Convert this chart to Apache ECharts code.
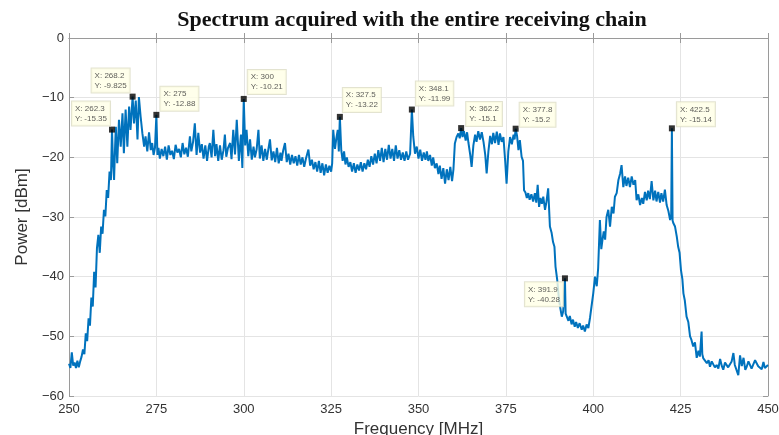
<!DOCTYPE html>
<html>
<head>
<meta charset="utf-8">
<script src="https://cdn.jsdelivr.net/npm/echarts@6/dist/echarts.min.js"></script>
<style>
html,body{margin:0;padding:0;background:#fff;}
#chart{width:779px;height:435px;}
</style>
</head>
<body>
<div id="chart"></div>
<script>
// ---- Data (frequency MHz, power dBm) ----
const riseBand = [[250,-54.6],[250.4,-55.3],[250.8,-52.7],[251.2,-54.9],[251.6,-54.4],[252,-55.3],[252.4,-54.1],[252.8,-55.2],[253.2,-54.2],[253.6,-53.4],[254,-52.2],[254.4,-53.0],[254.8,-49.5],[255.2,-50.8],[255.6,-47.0],[256,-48.2],[256.4,-43.5],[256.8,-45.0],[257.2,-39.2],[257.6,-41.8],[258,-35.2],[258.4,-33.0],[258.8,-36.0],[259.2,-31.6],[259.6,-32.8],[260,-28.8],[260.4,-29.9],[260.8,-25.5],[261.2,-26.8],[261.6,-22.4],[262,-23.8],[262.3,-15.35],[262.6,-21.0],[262.9,-23.8]];
const peakBand = [[263.2,-18.0],[263.4,-14.9],[263.8,-21.0],[264.3,-13.7],[264.8,-18.2],[265.3,-12.6],[265.7,-19.3],[266.2,-12.0],[266.7,-18.2],[267.2,-11.5],[267.6,-15.4],[268.2,-9.825],[268.6,-14.3],[269.1,-10.5],[269.6,-17.0],[270,-9.9],[270.5,-13.2],[271,-16.0],[271.5,-18.2],[271.9,-16.5],[272.4,-19.0],[272.9,-15.8],[273.4,-18.8],[273.8,-17.6],[274.2,-19.6],[274.6,-18.4],[275,-12.88],[275.3,-19.6]];
const band275 = [[275.6,-18.4],[276,-20.2],[276.5,-18.6],[277,-19.8],[277.5,-18.2],[278,-20.4],[278.5,-18.0],[279,-19.6],[279.5,-18.9],[280,-20.3],[280.5,-17.9],[281,-19.2],[281.5,-18.6],[282,-20.0],[282.5,-17.6],[283,-19.5],[283.5,-18.4],[284,-19.9],[284.6,-16.5],[285,-19.0],[285.5,-17.4],[286,-14.3],[286.5,-19.6],[287,-15.9],[287.5,-19.2],[288,-17.8],[288.5,-20.2],[289,-18.0],[289.5,-20.6],[290,-18.2],[290.3,-17.6],[290.8,-20.0],[291.3,-15.4],[291.8,-19.8],[292.2,-17.8],[292.7,-20.6],[293.2,-18.0],[293.7,-20.4],[294.2,-18.8],[294.6,-16.2],[295,-19.9],[295.5,-18.4],[296.1,-17.6],[296.5,-20.3],[297,-15.4],[297.5,-19.5],[298,-13.7],[298.6,-20.6],[299.2,-16.2],[299.6,-21.8],[300,-10.21],[300.4,-18.0]];
const band300 = [[300.8,-15.4],[301.3,-19.8],[301.8,-17.0],[302.3,-20.4],[302.8,-18.2],[303.2,-20.0],[303.7,-18.6],[304.2,-15.4],[304.6,-20.2],[305.1,-18.0],[305.6,-20.6],[306.1,-18.6],[306.6,-20.4],[307,-18.8],[307.5,-17.0],[308,-20.5],[308.5,-19.0],[309,-20.8],[309.5,-18.4],[310,-21.0],[310.5,-19.2],[310.8,-20.6],[311.3,-18.8],[311.8,-17.6],[312.3,-20.8],[312.8,-19.4],[313.3,-21.2],[313.8,-19.6],[314.3,-21.0],[314.8,-19.8],[315.3,-21.4],[315.8,-19.6],[316.3,-21.2],[316.8,-20.0],[317.3,-21.6],[317.8,-20.2],[318.5,-18.7],[319,-21.4],[319.5,-20.4],[320,-22.0],[320.5,-20.8],[321,-22.4],[321.5,-20.6],[322,-22.6],[322.5,-21.0],[323,-23.0],[323.5,-21.2],[324,-22.6],[324.5,-21.4],[325,-22.4],[325.3,-21.0],[325.6,-15.4],[326.1,-18.6],[326.5,-16.8],[326.9,-15.4],[327.2,-19.0],[327.5,-13.22],[327.9,-18.8]];
const band328 = [[328.3,-20.6],[328.7,-19.0],[329.1,-21.2],[329.5,-20.0],[330,-21.6],[330.5,-20.8],[331,-22.4],[331.5,-21.0],[332,-22.6],[332.5,-21.2],[333,-22.2],[333.5,-20.8],[334,-22.4],[334.5,-21.0],[335,-22.0],[335.5,-20.4],[336,-21.6],[336.5,-19.8],[337,-21.2],[337.5,-19.4],[338,-21.0],[338.5,-18.8],[339,-20.6],[339.5,-18.4],[340,-20.8],[340.5,-18.6],[341,-20.4],[341.5,-17.9],[342,-20.2],[342.5,-18.6],[343,-20.6],[343.5,-18.0],[344,-20.2],[344.5,-18.8],[345,-20.4],[345.5,-19.2],[346,-20.6],[346.5,-19.0],[347,-20.4],[347.6,-19.4],[348.1,-11.99],[348.5,-16.5],[349,-19.4],[349.5,-18.2],[350,-20.2],[350.5,-18.7],[351,-20.6],[351.5,-19.2],[352,-20.4]];
const band352 = [[352.4,-19.0],[352.8,-20.6],[353.3,-19.6],[353.8,-21.4],[354.2,-20.0],[354.7,-21.8],[355.2,-21.0],[355.7,-22.8],[356.1,-21.4],[356.6,-23.6],[357.1,-21.8],[357.6,-24.4],[358.1,-22.0],[358.6,-23.8],[359.1,-21.6],[359.6,-24.0],[360,-22.0],[360.4,-17.7],[360.9,-16.6],[361.4,-16.0],[361.8,-16.8],[362.2,-15.1],[362.6,-16.6],[363,-15.6],[363.5,-17.2],[363.9,-15.8],[364.3,-17.6],[364.8,-19.6],[365.2,-21.6],[365.7,-18.0],[366.2,-16.2],[366.6,-17.4],[367.1,-15.6],[367.6,-17.0],[368.1,-15.8],[368.6,-17.4],[369.1,-19.6],[369.5,-22.7],[370,-19.0],[370.5,-16.4],[371,-17.8],[371.4,-15.9],[371.9,-17.6],[372.4,-15.7],[372.9,-17.9],[373.3,-16.0],[373.8,-17.4],[374.3,-16.6],[374.8,-20.6],[375.2,-24.4],[375.7,-19.0],[376.2,-16.6],[376.7,-17.8],[377.2,-16.2],[377.5,-17.0],[377.8,-15.2]];
const notchBand = [[378.2,-16.4],[378.6,-18.8],[379,-17.1],[379.5,-19.9],[379.9,-20.6],[380.2,-25.5],[380.6,-25.9],[381,-26.8],[381.4,-26.0],[381.8,-27.1],[382.3,-26.2],[382.8,-27.4],[383.3,-26.0],[383.7,-27.6],[384.1,-24.6],[384.5,-28.3],[384.9,-26.8],[385.3,-27.8],[385.7,-26.6],[386.2,-28.8],[386.6,-27.5],[387.1,-25.2],[387.6,-31.6],[388.1,-32.7],[388.5,-34.2],[388.9,-35.0],[389.2,-38.3],[389.7,-40.6],[390.1,-43.2],[390.5,-45.0],[391,-46.7],[391.4,-45.8],[391.9,-40.28],[392.1,-46.2],[392.4,-46.0],[392.9,-47.4],[393.3,-46.6],[393.8,-48.0],[394.2,-47.2],[394.7,-48.4],[395.1,-47.6],[395.6,-48.6],[396.1,-47.8],[396.7,-48.9],[397.1,-48.2],[397.6,-49.2],[398.1,-48.0],[398.6,-48.6],[399.1,-46.8],[399.5,-45.0],[400,-42.8],[400.5,-40.0],[401,-41.6],[401.4,-38.6],[401.9,-30.5],[402.3,-35.4],[402.6,-34.0],[403,-32.4],[403.4,-33.8],[403.8,-30.0]];
const upperBand = [[404.3,-28.8],[404.8,-31.6],[405.3,-28.3],[405.8,-29.4],[406.2,-26.6],[406.7,-26.0],[407.2,-23.8],[407.7,-22.7],[408.1,-21.3],[408.6,-25.0],[409.1,-23.2],[409.5,-24.8],[410,-23.4],[410.5,-25.0],[411,-23.2],[411.5,-24.6],[412,-23.8],[412.4,-27.2],[412.9,-26.2],[413.4,-28.0],[413.9,-26.8],[414.3,-27.8],[414.8,-25.8],[415.3,-27.2],[415.7,-25.6],[416.2,-27.0],[416.7,-24.0],[417.2,-27.2],[417.7,-25.6],[418.1,-27.4],[418.6,-25.8],[419.1,-27.6],[419.5,-26.0],[420,-27.4],[420.5,-25.4],[421,-28.0],[421.5,-29.0],[422,-30.5],[422.3,-29.8],[422.5,-15.14],[422.7,-30.6],[422.9,-31.0],[423.4,-31.6],[423.9,-33.3],[424.3,-35.0],[424.7,-36.0],[425.1,-38.9],[425.5,-40.4],[425.8,-42.8],[426.2,-44.0],[426.7,-46.7],[427.2,-47.6],[427.7,-50.0],[428.1,-50.6],[428.6,-51.7],[429.1,-51.0],[429.6,-53.6],[430.1,-52.4],[430.5,-53.4]];
const floorBand = [[431,-49.2],[431.2,-53.0],[431.5,-53.7],[432,-54.0],[432.5,-54.5],[433,-54.0],[433.4,-55.1],[433.9,-54.2],[434.4,-54.3],[434.8,-55.2],[435.3,-54.8],[435.8,-55.4],[436.3,-53.8],[436.8,-55.0],[437.2,-55.6],[437.7,-54.4],[438.2,-54.3],[438.6,-55.2],[439.1,-55.1],[439.6,-54.2],[440.1,-52.8],[440.5,-54.8],[441,-55.1],[441.5,-56.5],[442,-53.2],[442.5,-55.0],[443,-53.6],[443.5,-55.6],[443.9,-55.1],[444.4,-54.2],[444.8,-54.3],[445.3,-55.4],[445.8,-55.1],[446.3,-54.0],[446.8,-53.9],[447.2,-55.0],[447.7,-54.8],[448.2,-55.5],[448.7,-54.3],[449.1,-55.3],[449.6,-55.1],[450,-54.8]];

// Data tips
const tipFreq  = [262.3, 268.2, 275, 300, 327.5, 348.1, 362.2, 377.8, 391.9, 422.5];
const tipPower = [-15.35, -9.825, -12.88, -10.21, -13.22, -11.99, -15.1, -15.2, -40.28, -15.14];
const tipText  = [['262.3','-15.35'],['268.2','-9.825'],['275','-12.88'],['300','-10.21'],['327.5','-13.22'],['348.1','-11.99'],['362.2','-15.1'],['377.8','-15.2'],['391.9','-40.28'],['422.5','-15.14']];

// Layout (box top-left relative to marker centre, px)
const tipBoxOffset = [[-40,-28],[-41,-28],[4,-28],[4,-29],[3,-29],[4,-28],[5,-26],[4,-26],[-40,4],[5,-26]];

const spectrum = [].concat(riseBand, peakBand, band275, band300, band328, band352, notchBand, upperBand, floorBand);

const chart = echarts.init(document.getElementById('chart'), null, {renderer:'canvas'});
const axisCol = '#9a9a9a';
const labCol = '#333333';
const minusFmt = v => String(v).replace('-', '\u2212');
const sym = 6;

const option = {
  animation: false,
  backgroundColor: '#ffffff',
  title: {
    text: 'Spectrum acquired with the entire receiving chain',
    left: 412, top: 9, padding: 0, textAlign: 'center',
    textStyle: {fontFamily: '"Liberation Serif", "DejaVu Serif", serif', fontWeight: 'bold', fontSize: 22, color: '#111'}
  },
  grid: {left: 69, right: 11, top: 38, bottom: 39, containLabel: false, outerBoundsMode: 'none'},
  xAxis: [{
    type: 'value', min: 250, max: 450, interval: 25,
    name: 'Frequency [MHz]', nameLocation: 'middle', nameGap: 22,
    nameTextStyle: {fontFamily: 'Arial, "Liberation Sans", sans-serif', fontSize: 17, color: labCol, verticalAlign: 'top'},
    axisLine: {show: true, lineStyle: {color: axisCol, width: 1}},
    axisTick: {show: true, inside: true, length: 5, lineStyle: {color: axisCol}},
    axisLabel: {fontFamily: 'Arial, "Liberation Sans", sans-serif', fontSize: 13, color: labCol, margin: 7, formatter: minusFmt},
    splitLine: {show: true, lineStyle: {color: '#e4e4e4', width: 1}}
  }, {
    type: 'value', position: 'top', min: 250, max: 450, interval: 25,
    axisLine: {show: true, onZero: false, lineStyle: {color: axisCol, width: 1}},
    axisTick: {show: true, inside: true, length: 5, lineStyle: {color: axisCol}},
    axisLabel: {show: false}, splitLine: {show: false}
  }],
  yAxis: [{
    type: 'value', min: -60, max: 0, interval: 10,
    name: 'Power [dBm]', nameLocation: 'middle', nameGap: 38,
    nameTextStyle: {fontFamily: 'Arial, "Liberation Sans", sans-serif', fontSize: 17, color: labCol},
    axisLine: {show: true, onZero: false, lineStyle: {color: axisCol, width: 1}},
    axisTick: {show: true, inside: true, length: 5, lineStyle: {color: axisCol}},
    axisLabel: {fontFamily: 'Arial, "Liberation Sans", sans-serif', fontSize: 13, color: labCol, margin: 5, formatter: minusFmt},
    splitLine: {show: true, lineStyle: {color: '#e4e4e4', width: 1}}
  }, {
    type: 'value', position: 'right', min: -60, max: 0, interval: 10,
    axisLine: {show: true, onZero: false, lineStyle: {color: axisCol, width: 1}},
    axisTick: {show: true, inside: true, length: 5, lineStyle: {color: axisCol}},
    axisLabel: {show: false}, splitLine: {show: false}
  }],
  series: [{
    type: 'line', data: spectrum, xAxisIndex: 0, yAxisIndex: 0,
    showSymbol: false, symbol: 'none',
    lineStyle: {color: '#0072BD', width: 2},
    z: 2
  }, {
    type: 'scatter', xAxisIndex: 0, yAxisIndex: 0,
    symbol: 'rect', symbolSize: sym, z: 5,
    itemStyle: {color: '#000'},
    data: tipFreq.map((f, i) => ({
      value: [f, tipPower[i]],
      label: {position: [tipBoxOffset[i][0] + sym/2, tipBoxOffset[i][1] + sym/2]}
    })),
    label: {
      show: true, align: 'left', verticalAlign: 'top',
      formatter: p => 'X: ' + tipText[p.dataIndex][0] + '\nY: ' + tipText[p.dataIndex][1],
      fontFamily: 'Arial, "Liberation Sans", sans-serif', fontSize: 8, lineHeight: 10,
      color: '#333', backgroundColor: '#ffffe6', borderColor: '#dcdcc4', borderWidth: 1,
      padding: [2, 3, 2, 3]
    }
  }]
};
chart.setOption(option);
</script>
</body>
</html>
